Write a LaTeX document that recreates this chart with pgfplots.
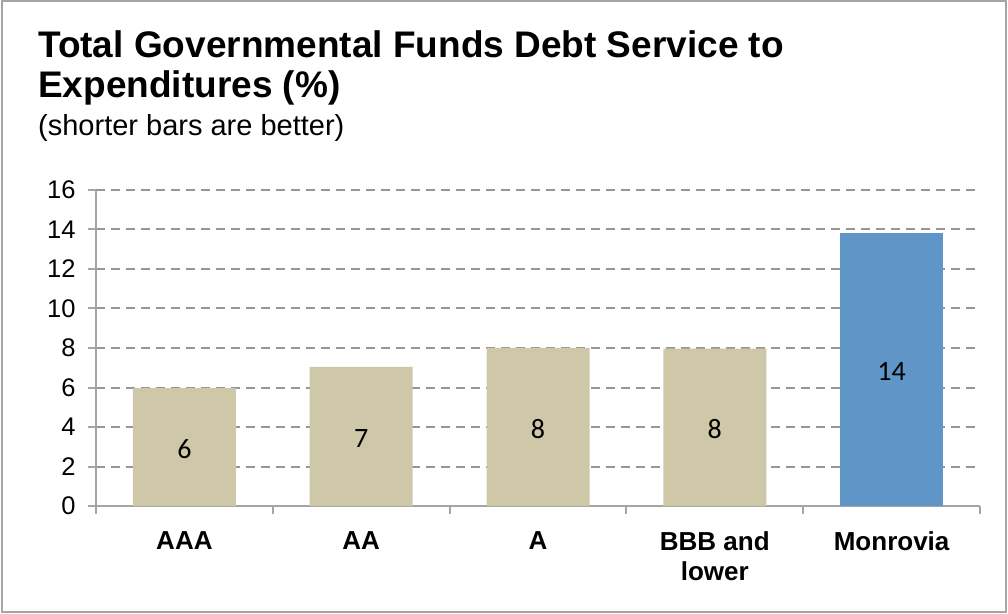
\documentclass[border=0pt]{standalone}
\usepackage{pgfplots}
\pgfplotsset{compat=1.18}
\usepackage{fontspec}
\setmainfont{Liberation Sans}
\newfontfamily\calib{Carlito}
\definecolor{tanbar}{RGB}{207,200,168}
\definecolor{barblue}{RGB}{96,149,200}
\definecolor{gridgray}{RGB}{150,150,150}
\definecolor{axgray}{RGB}{165,165,165}
\begin{document}
\begin{tikzpicture}[x=1pt,y=1pt]
\useasboundingbox (0,0) rectangle (1008,613);
\draw[axgray, line width=2pt] (1.5,1.5) rectangle (1005.5,611.5);
\node[anchor=base west, inner sep=0pt, font=\fontsize{37}{41}\selectfont\bfseries] at (38,555) {Total Governmental Funds Debt Service to};
\node[anchor=base west, inner sep=0pt, font=\fontsize{37}{41}\selectfont\bfseries] at (38,515) {Expenditures (\%)};
\node[anchor=base west, inner sep=0pt, font=\fontsize{29}{33}\selectfont] at (38,477) {(shorter bars are better)};
\begin{axis}[
  at={(96pt,107pt)}, anchor=south west,
  scale only axis, width=884pt, height=316pt,
  xmin=-0.5, xmax=4.5, ymin=0, ymax=16,
  axis x line*=bottom, axis y line*=left,
  axis line style={axgray, line width=2pt},
  tick style={axgray, line width=2pt},
  tick align=outside, major tick length=8pt,
  xtick={-0.5,0.5,1.5,2.5,3.5,4.5},
  x tick label as interval,
  xticklabels={AAA,AA,A,{BBB and\\lower},Monrovia},
  xticklabel style={font=\fontsize{26}{30}\selectfont\bfseries, align=center, text=black, yshift=-14pt},
  ytick={0,2,...,16},
  yticklabel style={font=\fontsize{25.5}{25.5}\selectfont, text=black, xshift=-9pt},
  /pgf/number format/assume math mode=true,
  ymajorgrids,
  major grid style={gridgray, dash pattern=on 9pt off 6pt, line width=2pt},
]
\addplot[ybar, bar width=103pt, bar shift=0pt, fill=tanbar, draw=none] coordinates {(0,5.97) (1,7.04) (2,8.0) (3,7.97)};
\addplot[ybar, bar width=103pt, bar shift=0pt, fill=barblue, draw=none] coordinates {(4,13.82)};
\addplot[only marks, mark=none, draw=none, nodes near coords, point meta=explicit symbolic,
  nodes near coords style={anchor=center, yshift=-2pt, font=\calib\fontsize{28}{28}\selectfont, text=black}]
  table[meta=label, row sep=\\] {
  x y label \\
  0 2.985 6 \\
  1 3.52 7 \\
  2 4.0 8 \\
  3 3.985 8 \\
  4 6.91 14 \\
  };
\end{axis}
\end{tikzpicture}
\end{document}
